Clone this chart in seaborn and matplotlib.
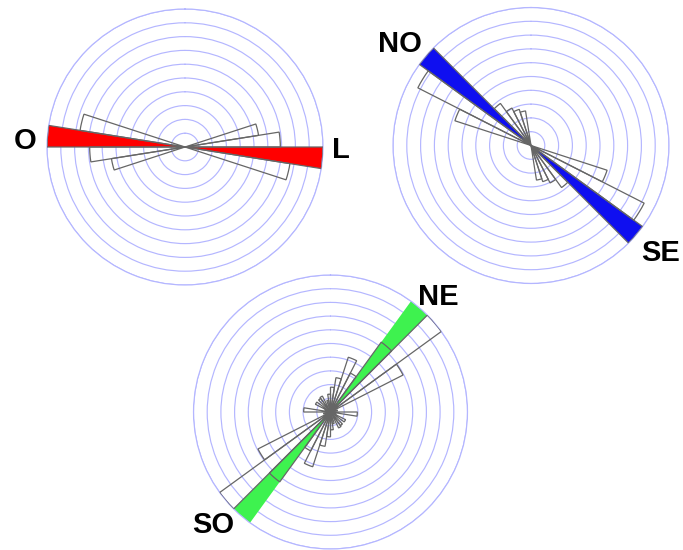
import matplotlib
matplotlib.use("Agg")
import matplotlib.pyplot as plt
import numpy as np
import seaborn as sns

sns.set_theme(style="white")
plt.rcParams['font.family'] = ['Liberation Sans', 'DejaVu Sans']

# 9 degree bins, bearings clockwise from north, starting at 0
bin_start = list(range(0, 360, 9))

# outline rose values (normalised to the outer ring)
rose_left = [0, 0, 0, 0, 0, 0, 0, 0, 75, 96, 139, 107, 0, 0, 0, 0, 0, 0, 0, 0,
             0, 0, 0, 0, 0, 0, 0, 0, 75, 96, 139, 107, 0, 0, 0, 0, 0, 0, 0, 0]
rose_right = [0, 0, 0, 0, 0, 0, 0, 0, 0, 0, 0, 0, 80, 127, 138, 52, 42, 38, 35, 0,
              0, 0, 0, 0, 0, 0, 0, 0, 0, 0, 0, 0, 80, 127, 138, 52, 42, 38, 35, 0]
rose_bottom = [25, 35, 58, 44, 87, 138, 82, 0, 7, 0, 27, 0, 6, 17, 0, 17, 18, 0, 12, 18,
               25, 35, 58, 44, 87, 138, 82, 0, 7, 0, 27, 0, 6, 17, 0, 17, 18, 0, 12, 18]

# highlighted direction (bin start, bearing) for each rose
main_dir = [90, 126, 36]
main_color = ['#ff0000', '#0f0ff0', '#3ef24f']
labels = [('L', 'O'), ('SE', 'NO'), ('NE', 'SO')]

roses = [rose_left, rose_right, rose_bottom]
# axes boxes in pixels (left, bottom, size)
boxes = [(47, 265, 276), (393, 266.5, 276), (193.5, 1, 274)]
# label placement (bearing, radius factor) for the two ends
label_pos = [((91, 1.13), (272, 1.16)),
             ((129.7, 1.22), (307.6, 1.2)),
             ((43, 1.15), (226, 1.19))]

W, H = 683, 550
fig = plt.figure(figsize=(W / 100, H / 100), dpi=100)
ring_color = '#b4b6ff'
width = np.deg2rad(9)

for k in range(3):
    lx, by, size = boxes[k]
    ax = fig.add_axes([lx / W, by / H, size / W, size / H], projection='polar')
    ax.set_theta_zero_location('N')
    ax.set_theta_direction(-1)
    vals = np.array(roses[k], dtype=float)
    rmax = vals.max()
    theta = np.deg2rad(np.array(bin_start) + 4.5)

    # highlighted wedge and its opposite, full length
    for b in (main_dir[k], main_dir[k] + 180):
        ax.bar(np.deg2rad(b + 4.5), rmax, width=width, color=main_color[k],
               edgecolor='none', linewidth=0, zorder=2)

    # outline histogram
    mask = vals > 0
    ax.bar(theta[mask], vals[mask], width=width, fill=False,
           edgecolor='#666666', linewidth=0.9, zorder=3)

    ax.set_ylim(0, rmax)
    ax.set_yticks(np.linspace(rmax / 10, rmax, 10))
    ax.set_yticklabels([])
    ax.set_xticks([])
    ax.yaxis.grid(True, color=ring_color, linewidth=0.85)
    ax.xaxis.grid(False)
    ax.spines['polar'].set_color(ring_color)
    ax.spines['polar'].set_linewidth(0.85)
    ax.set_facecolor('none')

    for (ang, rf), txt in zip(label_pos[k], labels[k]):
        ax.text(np.deg2rad(ang), rf * rmax, txt, ha='center', va='center',
                fontsize=21, fontweight='bold', color='black', clip_on=False)

fig.savefig('out.png', dpi=100)
